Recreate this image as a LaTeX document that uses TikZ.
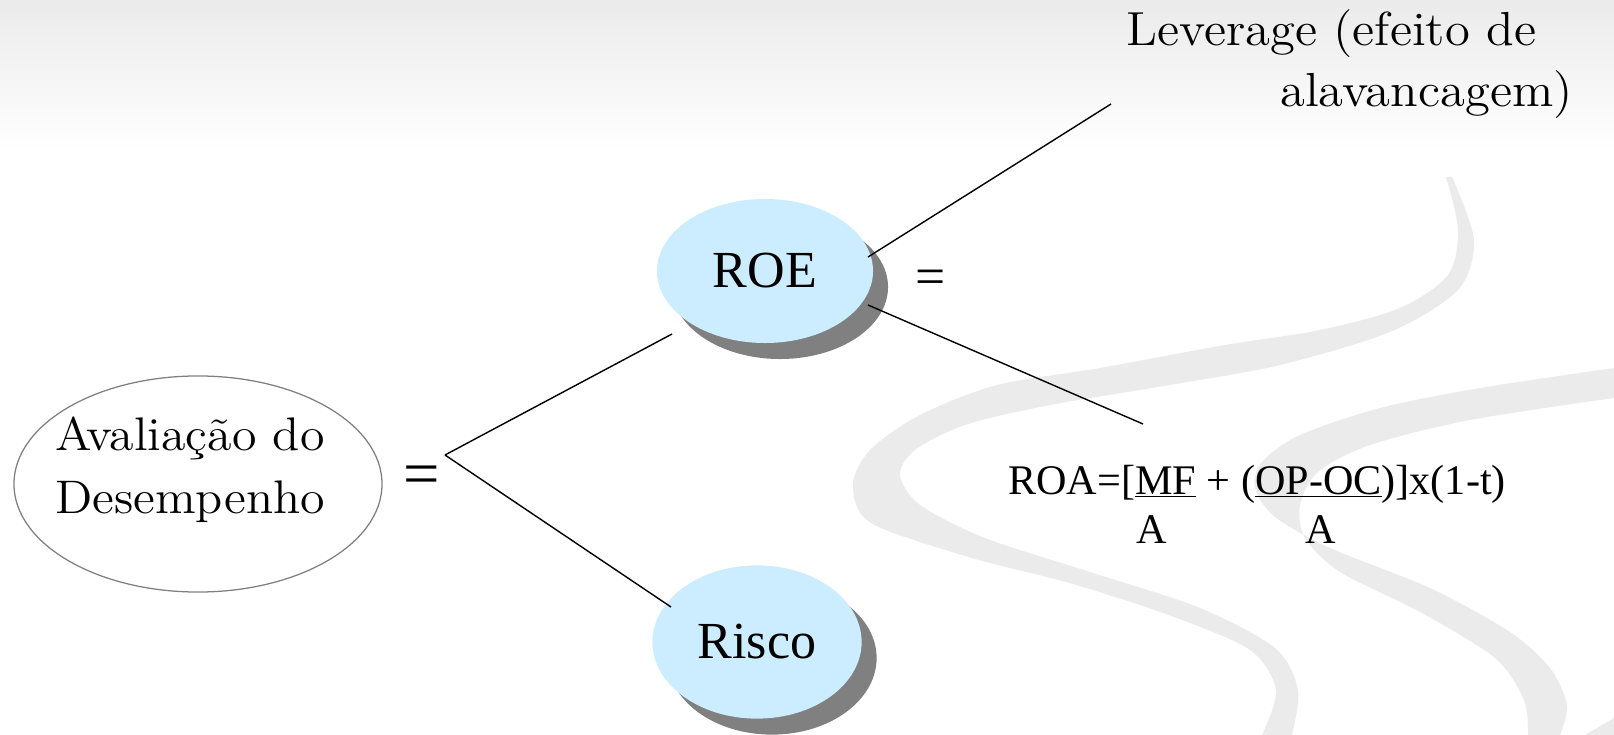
\documentclass[tikz,border=0pt]{standalone}
\usepackage{fontspec}
\newfontfamily\timesfont{Liberation Serif}
\newfontfamily\garafont{lmroman12-regular}[Extension=.otf, FakeStretch=1.06]
\usepackage{tikz}
\usetikzlibrary{shapes.geometric,shadows}
\definecolor{bubbleblue}{HTML}{CCECFF}
\definecolor{shadowgray}{HTML}{808080}
\definecolor{rimgray}{HTML}{808080}
\definecolor{swooshgray}{HTML}{EBEBEB}
\tikzset{bubble/.style={ellipse, fill=bubbleblue, inner sep=0pt,
		font=\timesfont\fontsize{37}{44}\selectfont,
		drop shadow={opacity=1, fill=shadowgray, shadow xshift=0.375cm, shadow yshift=-0.4cm}}}
\tikzset{formula/.style={font=\timesfont\fontsize{30}{36}\selectfont, inner sep=0pt}}
\tikzset{branch/.style={line width=1pt}}
\tikzset{swoosh/.style={fill=swooshgray, draw=none}}

\begin{document}
\begin{tikzpicture}[x=0.025cm, y=-0.025cm]
		\useasboundingbox (0,0) rectangle (1614,735);

		% Background
		\shade[top color=gray!16, bottom color=white] (0,0) rectangle (1614,150);
		\fill[swoosh] plot[smooth] coordinates {(1446,177) (1458,230) (1448,275) (1400,308) (1320,330)
			(1225,345) (1100,368) (997,385) (920,415) (870,450) (853,485) (871,523) (972,558)
			(1073,584) (1174,617) (1250,650) (1276,690) (1262,735)}
			-- plot[smooth] coordinates {(1292,735) (1298,690) (1275,648) (1200,608) (1090,572)
			(985,538) (920,505) (900,475) (915,450) (965,425) (1050,405) (1170,385) (1280,365)
			(1390,332) (1458,290) (1474,240) (1452,177)} -- cycle;
		\fill[swoosh] plot[smooth] coordinates {(1614,368) (1480,388) (1380,408) (1300,435) (1262,462)
			(1255,488) (1275,517) (1330,548) (1430,588) (1510,632) (1550,668) (1567,705) (1560,735)}
			-- plot[smooth] coordinates {(1528,735) (1524,700) (1495,658) (1420,612) (1340,572)
			(1305,538) (1300,505) (1318,472) (1370,445) (1470,420) (1614,398)} -- cycle;
		\fill[swoosh] (1585,735) -- (1614,718) -- (1614,735) -- cycle;

		% Left side
		\node[ellipse, draw=rimgray, line width=0.9pt, fill=white, inner sep=0pt,
			minimum width=9.2cm, minimum height=5.4cm] (avaliacao) at (198,484) {};
		\node[align=center, font=\garafont\fontsize{33.5}{44.8}\selectfont] (avaliacao-text) at (190,470)
			{Avaliação do\\Desempenho};
		\node[font=\timesfont\fontsize{46}{46}\selectfont, inner sep=0pt] (eq-main) at (422,481) {=};
		\coordinate (fork) at (445,455);

		% Branches
		\node[bubble, minimum width=5.4cm, minimum height=3.6cm] (roe) at (765,271) {ROE};
		\node[bubble, minimum width=5.23cm, minimum height=3.83cm] (risco) at (757,642) {Risco};
		\node[font=\timesfont\fontsize{38}{38}\selectfont, inner sep=0pt] (eq-roe) at (931,282) {=};

		% Right side
		\node[align=right, anchor=north east, inner sep=0pt, font=\garafont\fontsize{34}{43.4}\selectfont]
			(leverage) at (1573,9) {Leverage (efeito de\hspace*{26pt}\\alavancagem)};
		\node[formula, anchor=base west] (roa) at (1008,494)
			{ROA=[\underline{MF} + (\underline{OP-OC})]x(1-t)};
		\node[formula, anchor=base] (roa-mf) at (1152,543) {A};
		\node[formula, anchor=base] (roa-op) at (1321,543) {A};

		% Connectors
		\coordinate (roe-in) at (672,334);
		\coordinate (risco-in) at (671,607);
		\coordinate (roe-up) at (868,257);
		\coordinate (roe-down) at (868,305);
		\coordinate (leverage-in) at (1111,104);
		\coordinate (roa-in) at (1143,424);
		\draw[branch] (fork) -- (roe-in);
		\draw[branch] (fork) -- (risco-in);
		\draw[branch] (roe-up) -- (leverage-in);
		\draw[branch] (roe-down) -- (roa-in);

	\end{tikzpicture}
\end{document}
